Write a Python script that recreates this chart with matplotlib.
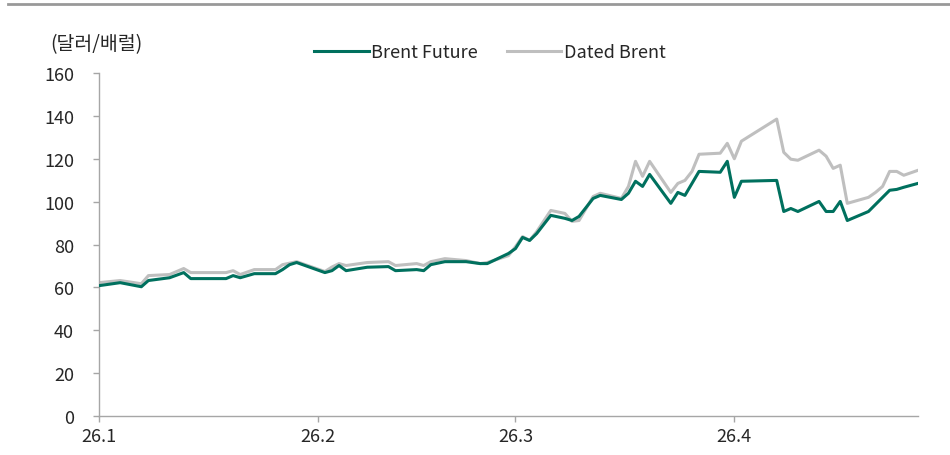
import matplotlib
matplotlib.use('Agg')
import matplotlib.pyplot as plt
from matplotlib.lines import Line2D
import pandas as pd

plt.rcParams['font.family'] = ['Noto Sans CJK KR', 'DejaVu Sans']

dates = ['2026-01-01', '2026-01-04', '2026-01-07', '2026-01-08', '2026-01-11',
         '2026-01-13', '2026-01-14', '2026-01-19', '2026-01-20', '2026-01-21',
         '2026-01-23', '2026-01-26', '2026-01-27', '2026-01-28', '2026-01-29',
         '2026-02-02', '2026-02-03', '2026-02-04', '2026-02-05', '2026-02-08',
         '2026-02-11', '2026-02-12', '2026-02-15', '2026-02-16', '2026-02-17',
         '2026-02-19', '2026-02-22', '2026-02-24', '2026-02-25', '2026-02-28',
         '2026-03-01', '2026-03-02', '2026-03-03', '2026-03-04', '2026-03-06',
         '2026-03-08', '2026-03-09', '2026-03-10', '2026-03-12', '2026-03-13',
         '2026-03-16', '2026-03-17', '2026-03-18', '2026-03-19', '2026-03-20',
         '2026-03-23', '2026-03-24', '2026-03-25', '2026-03-26', '2026-03-27',
         '2026-03-30', '2026-03-31', '2026-04-01', '2026-04-02', '2026-04-07',
         '2026-04-08', '2026-04-09', '2026-04-10', '2026-04-13', '2026-04-14',
         '2026-04-15', '2026-04-16', '2026-04-17', '2026-04-20', '2026-04-21',
         '2026-04-22', '2026-04-23', '2026-04-24', '2026-04-25', '2026-04-27']

brent_future = [60.8, 62.2, 60.3, 63.2, 64.5, 66.9, 64.1, 64.1, 65.5, 64.5,
                66.4, 66.4, 68.3, 70.6, 71.6, 66.9, 67.8, 70.2, 67.8, 69.4,
                69.7, 67.8, 68.3, 67.8, 70.6, 72.0, 72.0, 71.1, 71.1, 75.8,
                78.1, 83.3, 81.9, 85.1, 93.6, 92.2, 91.2, 93.1, 101.5, 102.9,
                101.0, 103.9, 109.5, 107.1, 112.7, 99.2, 104.3, 102.9, 108.5, 114.1,
                113.7, 118.8, 102.0, 109.5, 109.9, 95.4, 96.8, 95.4, 100.1, 95.4,
                95.4, 100.1, 91.2, 95.4, 98.7, 102.0, 105.3, 105.7, 106.7, 108.5]

dated_brent = [62.2, 63.2, 61.7, 65.5, 66.0, 68.8, 66.9, 66.9, 67.8, 66.0,
               68.3, 68.3, 70.6, 71.3, 72.0, 67.4, 69.5, 71.1, 70.2, 71.6,
               72.0, 70.2, 71.1, 70.2, 72.0, 73.4, 72.5, 71.1, 71.6, 74.8,
               79.0, 83.7, 81.9, 86.0, 95.9, 94.5, 90.8, 91.2, 102.4, 103.9,
               101.5, 107.1, 118.8, 111.8, 118.8, 104.3, 108.5, 109.9, 114.1, 122.1,
               122.6, 127.2, 120.0, 128.2, 138.5, 123.0, 119.8, 119.3, 124.0, 121.2,
               115.5, 117.0, 99.2, 102.0, 104.3, 107.1, 114.1, 114.1, 112.3, 114.6]

x_ticks = ['2026-01-01', '2026-02-01', '2026-03-01', '2026-04-01']
x_labels = ['26.1', '26.2', '26.3', '26.4']

x = pd.to_datetime(dates)

fig = plt.figure(figsize=(9.5, 4.56), dpi=100)
ax = fig.add_axes([0.1042, 0.0855, 0.862, 0.7522])

green = '#00705E'
grey = '#BFBFBF'
axis_col = '#A6A6A6'
text_col = '#262626'

ax.plot(x, brent_future, color=green, lw=2.2, label='Brent Future', zorder=3)
ax.plot(x, dated_brent, color=grey, lw=2.2, label='Dated Brent', zorder=2)

ax.set_xlim(pd.Timestamp('2026-01-01'), pd.Timestamp('2026-04-27'))
ax.set_ylim(0, 160)
ax.set_yticks(range(0, 161, 20))
ax.set_xticks(pd.to_datetime(x_ticks))
ax.set_xticklabels(x_labels)

for side in ['top', 'right']:
    ax.spines[side].set_visible(False)
for side in ['left', 'bottom']:
    ax.spines[side].set_color(axis_col)
    ax.spines[side].set_linewidth(1.0)

ax.tick_params(axis='both', direction='out', length=4, width=1.0,
               color=axis_col, labelsize=13, labelcolor=text_col)
ax.tick_params(axis='y', pad=14)
ax.tick_params(axis='x', pad=4)

# unit label and legend above the plot area
fig.text(50 / 950, 1 - 45 / 456, '(달러/배럴)', fontsize=14, color=text_col,
         ha='left', va='center')

handles = [Line2D([], [], color=green, lw=2.2), Line2D([], [], color=grey, lw=2.2)]
fig.legend(handles, ['Brent Future', 'Dated Brent'], loc='center',
           bbox_to_anchor=(490 / 950, 1 - 53 / 456), ncol=2, frameon=False,
           fontsize=13, handlelength=3.0, handletextpad=0.15, columnspacing=1.6,
           labelcolor=text_col)

# thin rule across the top of the figure
fig.add_artist(Line2D([0.008, 1.0], [1 - 5 / 456, 1 - 5 / 456],
                      transform=fig.transFigure, color='#999999', lw=2.0))

fig.savefig('out.png', dpi=100)
